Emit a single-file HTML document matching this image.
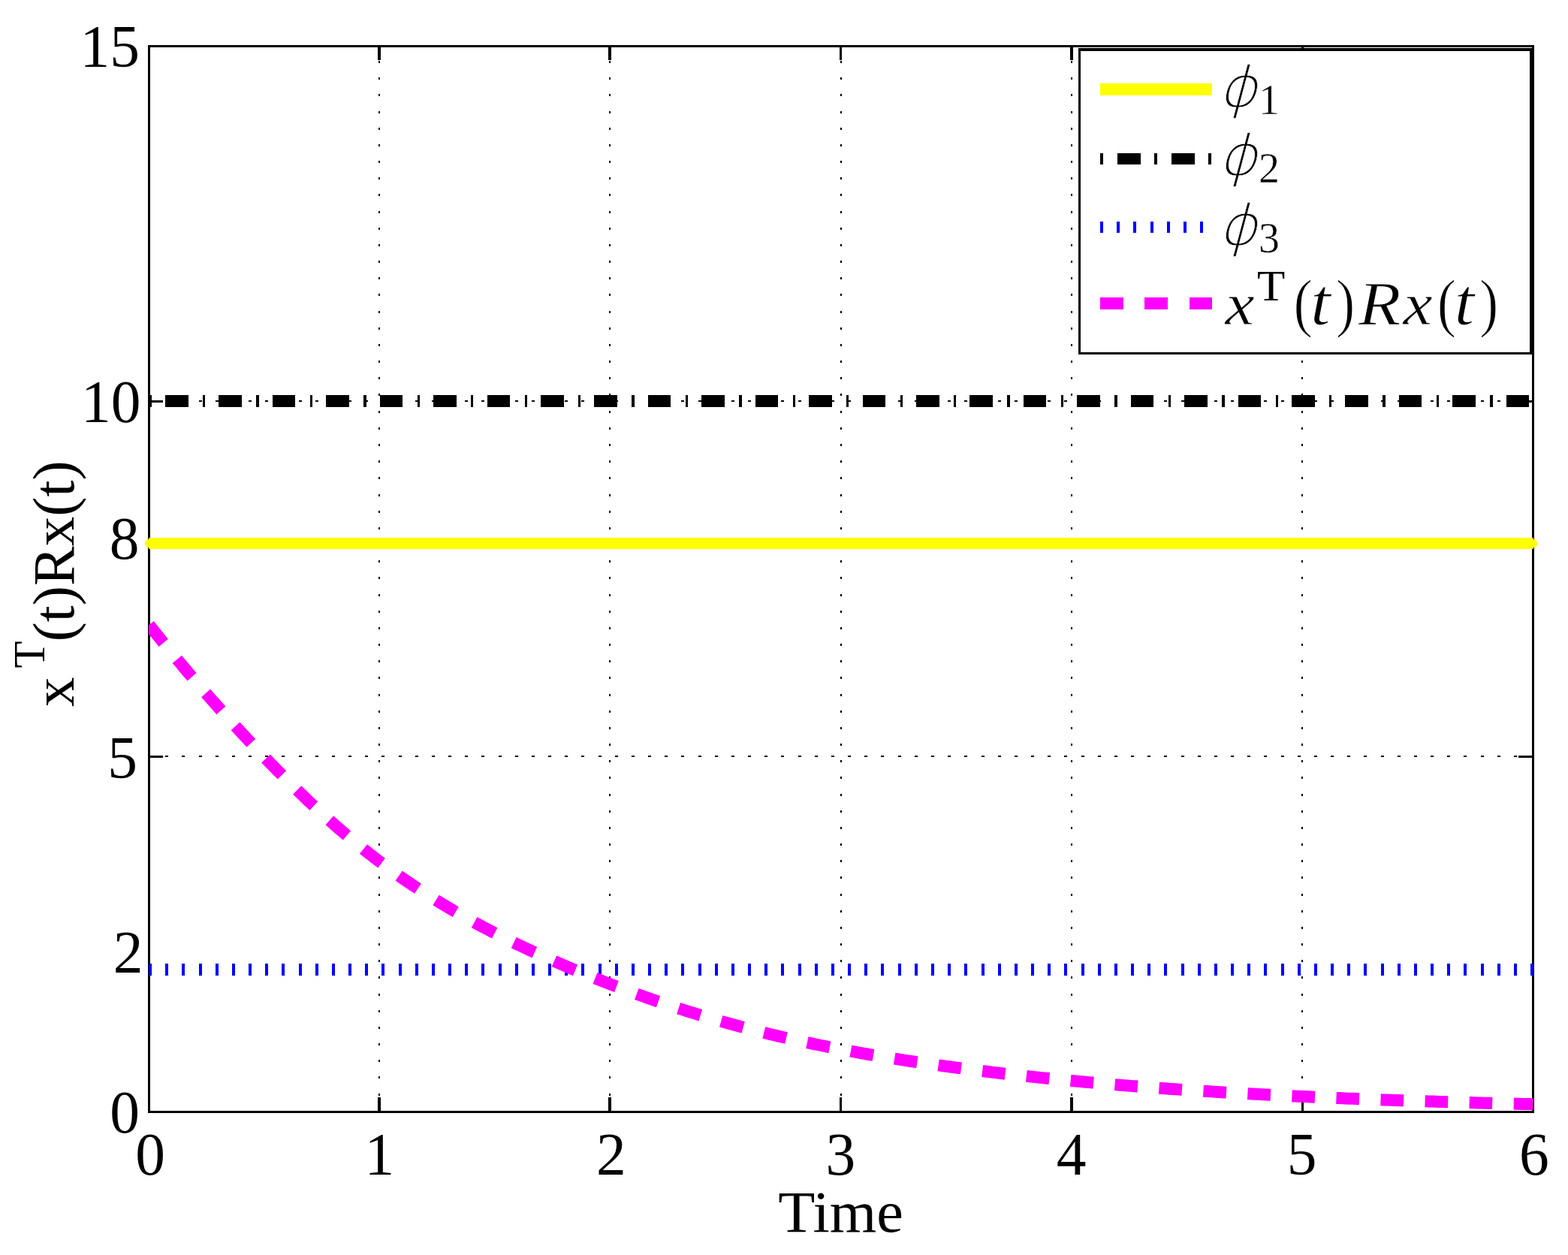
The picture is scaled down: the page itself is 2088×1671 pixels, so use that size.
<!DOCTYPE html>
<html lang="en"><head><meta charset="utf-8"><title>x^T(t)Rx(t) versus Time</title>
<style>
html,body{margin:0;padding:0;background:#fff;}
body{width:2088px;height:1671px;overflow:hidden;}
svg{display:block;}
text{font-family:"Liberation Serif",serif;fill:#000;}
.it{font-style:italic;}
</style></head><body>
<svg width="2088" height="1671" viewBox="0 0 2088 1671">
<rect x="0" y="0" width="2088" height="1671" fill="#fff"/>
<defs><clipPath id="ax"><rect x="198" y="60" width="1844.5" height="1422"/></clipPath></defs>

<g shape-rendering="crispEdges" stroke="#000" fill="none">
<line x1="505.0" y1="1480.8" x2="505.0" y2="61" stroke-width="2" stroke-dasharray="3 19.17"/>
<line x1="812.0" y1="1480.8" x2="812.0" y2="61" stroke-width="2" stroke-dasharray="3 19.17"/>
<line x1="1120.0" y1="1480.8" x2="1120.0" y2="61" stroke-width="2" stroke-dasharray="3 19.17"/>
<line x1="1427.0" y1="1480.8" x2="1427.0" y2="61" stroke-width="2" stroke-dasharray="3 19.17"/>
<line x1="1734.0" y1="1480.8" x2="1734.0" y2="61" stroke-width="2" stroke-dasharray="3 19.17"/>
<line x1="198" y1="1007.0" x2="2041" y2="1007.0" stroke-width="2" stroke-dasharray="4 18.17"/>
<line x1="198" y1="534.0" x2="2041" y2="534.0" stroke-width="2" stroke-dasharray="4 18.17"/>
</g>
<g shape-rendering="crispEdges" fill="#000">
<rect x="197" y="60" width="1846" height="3"/>
<rect x="197" y="1479" width="1846" height="3"/>
<rect x="197" y="60" width="3" height="1422"/>
<rect x="2040" y="60" width="3" height="1422"/>
<rect x="503" y="1461" width="4" height="19"/>
<rect x="503" y="62" width="4" height="18"/>
<rect x="810" y="1461" width="4" height="19"/>
<rect x="810" y="62" width="4" height="18"/>
<rect x="1118" y="1461" width="3" height="19"/>
<rect x="1118" y="62" width="3" height="18"/>
<rect x="1425" y="1461" width="4" height="19"/>
<rect x="1425" y="62" width="4" height="18"/>
<rect x="1733" y="1461" width="3" height="19"/>
<rect x="1733" y="62" width="3" height="18"/>
<rect x="199" y="1006" width="18" height="3"/>
<rect x="2022" y="1006" width="19" height="3"/>
<rect x="199" y="533" width="18" height="3"/>
<rect x="2022" y="533" width="19" height="3"/>
</g>
<g fill="none">
<line x1="198" y1="723.5" x2="2042" y2="723.5" stroke="#ff0" stroke-width="15" shape-rendering="crispEdges"/>
<circle cx="198.5" cy="723.5" r="5.6" fill="#ff0"/><circle cx="2041.5" cy="723.5" r="5.6" fill="#ff0"/>
<line x1="198.5" y1="534" x2="2042.5" y2="534" stroke="#000" stroke-width="16" stroke-dasharray="3.4 18.1 30.6 19.33" shape-rendering="crispEdges"/>
<line x1="198" y1="1291" x2="2042.5" y2="1291" stroke="#00f" stroke-width="16" stroke-dasharray="4 18.17" shape-rendering="crispEdges"/>
<path d="M198.50 832.06 L203.12 837.85 L207.74 843.60 L212.36 849.32 L216.98 855.01 L221.60 860.67 L226.21 866.30 L230.83 871.90 L235.45 877.46 L240.07 882.99 L244.69 888.50 L249.31 893.97 L253.93 899.41 L258.55 904.82 L263.17 910.20 L267.79 915.55 L272.40 920.88 L277.02 926.17 L281.64 931.43 L286.26 936.66 L290.88 941.86 L295.50 947.03 L300.12 952.17 L304.74 957.29 L309.36 962.37 L313.98 967.42 L318.60 972.45 L323.21 977.44 L327.83 982.41 L332.45 987.35 L337.07 992.26 L341.69 997.14 L346.31 1001.99 L350.93 1006.81 L355.55 1011.60 L360.17 1016.37 L364.79 1021.10 L369.40 1025.81 L374.02 1030.49 L378.64 1035.14 L383.26 1039.75 L387.88 1044.33 L392.50 1048.88 L397.12 1053.38 L401.74 1057.86 L406.36 1062.29 L410.98 1066.69 L415.60 1071.05 L420.21 1075.36 L424.83 1079.64 L429.45 1083.87 L434.07 1088.06 L438.69 1092.21 L443.31 1096.31 L447.93 1100.37 L452.55 1104.38 L457.17 1108.35 L461.79 1112.28 L466.40 1116.16 L471.02 1119.99 L475.64 1123.78 L480.26 1127.53 L484.88 1131.23 L489.50 1134.89 L494.12 1138.50 L498.74 1142.07 L503.36 1145.60 L507.98 1149.09 L512.60 1152.53 L517.21 1155.93 L521.83 1159.29 L526.45 1162.61 L531.07 1165.88 L535.69 1169.12 L540.31 1172.31 L544.93 1175.46 L549.55 1178.57 L554.17 1181.65 L558.79 1184.68 L563.40 1187.68 L568.02 1190.64 L572.64 1193.56 L577.26 1196.45 L581.88 1199.31 L586.50 1202.13 L591.12 1204.92 L595.74 1207.67 L600.36 1210.40 L604.98 1213.09 L609.60 1215.75 L614.21 1218.39 L618.83 1220.99 L623.45 1223.56 L628.07 1226.11 L632.69 1228.63 L637.31 1231.13 L641.93 1233.59 L646.55 1236.03 L651.17 1238.45 L655.79 1240.84 L660.40 1243.21 L665.02 1245.55 L669.64 1247.88 L674.26 1250.17 L678.88 1252.45 L683.50 1254.70 L688.12 1256.94 L692.74 1259.15 L697.36 1261.34 L701.98 1263.51 L706.60 1265.66 L711.21 1267.79 L715.83 1269.91 L720.45 1272.00 L725.07 1274.07 L729.69 1276.13 L734.31 1278.17 L738.93 1280.19 L743.55 1282.20 L748.17 1284.19 L752.79 1286.16 L757.40 1288.12 L762.02 1290.06 L766.64 1291.98 L771.26 1293.89 L775.88 1295.79 L780.50 1297.67 L785.12 1299.53 L789.74 1301.38 L794.36 1303.22 L798.98 1305.04 L803.60 1306.85 L808.21 1308.64 L812.83 1310.43 L817.45 1312.19 L822.07 1313.95 L826.69 1315.69 L831.31 1317.42 L835.93 1319.13 L840.55 1320.83 L845.17 1322.51 L849.79 1324.18 L854.40 1325.84 L859.02 1327.48 L863.64 1329.11 L868.26 1330.72 L872.88 1332.32 L877.50 1333.90 L882.12 1335.47 L886.74 1337.03 L891.36 1338.57 L895.98 1340.09 L900.60 1341.60 L905.21 1343.10 L909.83 1344.58 L914.45 1346.05 L919.07 1347.50 L923.69 1348.94 L928.31 1350.36 L932.93 1351.77 L937.55 1353.16 L942.17 1354.54 L946.79 1355.90 L951.40 1357.25 L956.02 1358.59 L960.64 1359.91 L965.26 1361.21 L969.88 1362.50 L974.50 1363.78 L979.12 1365.04 L983.74 1366.29 L988.36 1367.53 L992.98 1368.75 L997.60 1369.95 L1002.21 1371.14 L1006.83 1372.32 L1011.45 1373.49 L1016.07 1374.64 L1020.69 1375.78 L1025.31 1376.90 L1029.93 1378.01 L1034.55 1379.10 L1039.17 1380.19 L1043.79 1381.26 L1048.40 1382.32 L1053.02 1383.36 L1057.64 1384.39 L1062.26 1385.41 L1066.88 1386.42 L1071.50 1387.41 L1076.12 1388.40 L1080.74 1389.37 L1085.36 1390.33 L1089.98 1391.28 L1094.60 1392.22 L1099.21 1393.15 L1103.83 1394.07 L1108.45 1394.97 L1113.07 1395.87 L1117.69 1396.76 L1122.31 1397.63 L1126.93 1398.50 L1131.55 1399.36 L1136.17 1400.20 L1140.79 1401.04 L1145.40 1401.87 L1150.02 1402.69 L1154.64 1403.50 L1159.26 1404.30 L1163.88 1405.09 L1168.50 1405.87 L1173.12 1406.65 L1177.74 1407.42 L1182.36 1408.18 L1186.98 1408.93 L1191.60 1409.67 L1196.21 1410.40 L1200.83 1411.13 L1205.45 1411.85 L1210.07 1412.56 L1214.69 1413.26 L1219.31 1413.96 L1223.93 1414.65 L1228.55 1415.33 L1233.17 1416.01 L1237.79 1416.68 L1242.40 1417.34 L1247.02 1417.99 L1251.64 1418.64 L1256.26 1419.28 L1260.88 1419.91 L1265.50 1420.54 L1270.12 1421.16 L1274.74 1421.78 L1279.36 1422.39 L1283.98 1422.99 L1288.60 1423.59 L1293.21 1424.18 L1297.83 1424.77 L1302.45 1425.35 L1307.07 1425.92 L1311.69 1426.49 L1316.31 1427.05 L1320.93 1427.61 L1325.55 1428.16 L1330.17 1428.71 L1334.79 1429.25 L1339.40 1429.78 L1344.02 1430.31 L1348.64 1430.84 L1353.26 1431.36 L1357.88 1431.87 L1362.50 1432.38 L1367.12 1432.89 L1371.74 1433.39 L1376.36 1433.88 L1380.98 1434.37 L1385.60 1434.86 L1390.21 1435.34 L1394.83 1435.81 L1399.45 1436.28 L1404.07 1436.75 L1408.69 1437.21 L1413.31 1437.66 L1417.93 1438.12 L1422.55 1438.56 L1427.17 1439.00 L1431.79 1439.44 L1436.40 1439.88 L1441.02 1440.30 L1445.64 1440.73 L1450.26 1441.15 L1454.88 1441.56 L1459.50 1441.98 L1464.12 1442.38 L1468.74 1442.78 L1473.36 1443.18 L1477.98 1443.58 L1482.60 1443.97 L1487.21 1444.35 L1491.83 1444.74 L1496.45 1445.11 L1501.07 1445.49 L1505.69 1445.86 L1510.31 1446.22 L1514.93 1446.59 L1519.55 1446.94 L1524.17 1447.30 L1528.79 1447.65 L1533.40 1448.00 L1538.02 1448.34 L1542.64 1448.68 L1547.26 1449.01 L1551.88 1449.35 L1556.50 1449.67 L1561.12 1450.00 L1565.74 1450.32 L1570.36 1450.64 L1574.98 1450.95 L1579.60 1451.27 L1584.21 1451.57 L1588.83 1451.88 L1593.45 1452.18 L1598.07 1452.48 L1602.69 1452.77 L1607.31 1453.06 L1611.93 1453.35 L1616.55 1453.64 L1621.17 1453.92 L1625.79 1454.20 L1630.40 1454.47 L1635.02 1454.75 L1639.64 1455.02 L1644.26 1455.29 L1648.88 1455.55 L1653.50 1455.81 L1658.12 1456.07 L1662.74 1456.33 L1667.36 1456.58 L1671.98 1456.83 L1676.60 1457.08 L1681.21 1457.32 L1685.83 1457.57 L1690.45 1457.81 L1695.07 1458.04 L1699.69 1458.28 L1704.31 1458.51 L1708.93 1458.74 L1713.55 1458.97 L1718.17 1459.19 L1722.79 1459.42 L1727.40 1459.64 L1732.02 1459.86 L1736.64 1460.07 L1741.26 1460.28 L1745.88 1460.50 L1750.50 1460.70 L1755.12 1460.91 L1759.74 1461.11 L1764.36 1461.32 L1768.98 1461.52 L1773.60 1461.71 L1778.21 1461.91 L1782.83 1462.10 L1787.45 1462.30 L1792.07 1462.49 L1796.69 1462.67 L1801.31 1462.86 L1805.93 1463.04 L1810.55 1463.22 L1815.17 1463.40 L1819.79 1463.58 L1824.40 1463.76 L1829.02 1463.93 L1833.64 1464.10 L1838.26 1464.27 L1842.88 1464.44 L1847.50 1464.61 L1852.12 1464.77 L1856.74 1464.94 L1861.36 1465.10 L1865.98 1465.26 L1870.60 1465.42 L1875.21 1465.57 L1879.83 1465.73 L1884.45 1465.88 L1889.07 1466.03 L1893.69 1466.18 L1898.31 1466.33 L1902.93 1466.48 L1907.55 1466.62 L1912.17 1466.77 L1916.79 1466.91 L1921.40 1467.05 L1926.02 1467.19 L1930.64 1467.33 L1935.26 1467.46 L1939.88 1467.60 L1944.50 1467.73 L1949.12 1467.86 L1953.74 1467.99 L1958.36 1468.12 L1962.98 1468.25 L1967.60 1468.38 L1972.21 1468.50 L1976.83 1468.63 L1981.45 1468.75 L1986.07 1468.87 L1990.69 1468.99 L1995.31 1469.11 L1999.93 1469.23 L2004.55 1469.34 L2009.17 1469.46 L2013.79 1469.57 L2018.40 1469.68 L2023.02 1469.80 L2027.64 1469.91 L2032.26 1470.01 L2036.88 1470.12 L2041.50 1470.23" stroke="#f0f" stroke-width="16" stroke-dasharray="30.6 28.5" clip-path="url(#ax)"/>
</g>
<text transform="translate(200.00,1564.3) scale(1.0,1.02)" font-size="79.5" text-anchor="middle">0</text>
<text transform="translate(505.27,1564.3) scale(1.0,1.02)" font-size="79.5" text-anchor="middle">1</text>
<text transform="translate(813.83,1564.3) scale(1.0,1.02)" font-size="79.5" text-anchor="middle">2</text>
<text transform="translate(1119.40,1564.3) scale(1.0,1.02)" font-size="79.5" text-anchor="middle">3</text>
<text transform="translate(1426.57,1564.3) scale(1.0,1.02)" font-size="79.5" text-anchor="middle">4</text>
<text transform="translate(1733.73,1564.3) scale(1.0,1.02)" font-size="79.5" text-anchor="middle">5</text>
<text transform="translate(2042.90,1564.3) scale(1.0,1.02)" font-size="79.5" text-anchor="middle">6</text>
<text transform="translate(186.00,89) scale(1.0,1.02)" font-size="79.5" text-anchor="end">15</text>
<text transform="translate(187.40,562) scale(1.0,1.02)" font-size="79.5" text-anchor="end">10</text>
<text transform="translate(183.00,1035.5) scale(1.0,1.02)" font-size="79.5" text-anchor="end">5</text>
<text transform="translate(186.00,1508) scale(1.0,1.02)" font-size="79.5" text-anchor="end">0</text>
<text transform="translate(185.40,744) scale(1.0,1.02)" font-size="79.5" text-anchor="end">8</text>
<text transform="translate(190.50,1294.5) scale(1.0,1.02)" font-size="79.5" text-anchor="end">2</text>
<text transform="translate(1119.60,1640.2) scale(1.013,1.0)" font-size="79.3" text-anchor="middle">Time</text>
<text transform="translate(98,941) rotate(-90)" font-size="79"><tspan x="0" y="0">x</tspan><tspan x="51.5" y="-39.4" font-size="59">T</tspan><tspan x="86.5" y="0">(t)Rx(t)</tspan></text>
<g shape-rendering="crispEdges">
<rect x="1437.5" y="65.75" width="601" height="404.5" fill="#fff" stroke="#000" stroke-width="3.5"/>
<rect x="1465" y="111" width="149" height="16" fill="#ff0"/>
<line x1="1465" y1="211.5" x2="1614" y2="211.5" stroke="#000" stroke-width="15" stroke-dasharray="4 19 30.5 18.5"/>
<line x1="1465" y1="302.5" x2="1614" y2="302.5" stroke="#00f" stroke-width="15" stroke-dasharray="4 18.2"/>
<line x1="1465" y1="404" x2="1614" y2="404" stroke="#f0f" stroke-width="16" stroke-dasharray="31 28 31 29"/>
</g>
<text><tspan x="1621.8" y="142.0" font-size="74.5" textLength="52.62" lengthAdjust="spacingAndGlyphs" style="font-family:'DejaVu Sans Light','DejaVu Sans',serif;font-weight:200;font-style:italic" stroke="#fff" stroke-width="0.6">ϕ</tspan><tspan x="1676" y="152" font-size="56" stroke="#fff" stroke-width="0.5">1</tspan></text>
<text><tspan x="1621.8" y="233.3" font-size="74.5" textLength="52.62" lengthAdjust="spacingAndGlyphs" style="font-family:'DejaVu Sans Light','DejaVu Sans',serif;font-weight:200;font-style:italic" stroke="#fff" stroke-width="0.6">ϕ</tspan><tspan x="1676" y="243.3" font-size="56" stroke="#fff" stroke-width="0.5">2</tspan></text>
<text><tspan x="1621.8" y="325.5" font-size="74.5" textLength="52.62" lengthAdjust="spacingAndGlyphs" style="font-family:'DejaVu Sans Light','DejaVu Sans',serif;font-weight:200;font-style:italic" stroke="#fff" stroke-width="0.6">ϕ</tspan><tspan x="1676" y="335.5" font-size="56" stroke="#fff" stroke-width="0.5">3</tspan></text>
<text><tspan x="1631.5" y="431.5" font-size="80.00" textLength="39.06" lengthAdjust="spacingAndGlyphs" font-style="italic" stroke="#fff" stroke-width="0.80">x</tspan><tspan x="1674" y="399.8" font-size="56.50" textLength="37.27" lengthAdjust="spacingAndGlyphs" font-style="normal">T</tspan><tspan x="1722.5" y="431.5" font-size="86.80" textLength="25.31" lengthAdjust="spacingAndGlyphs" font-style="normal" stroke="#fff" stroke-width="1.20">(</tspan><tspan x="1745" y="431.5" font-size="89.00" textLength="26.71" lengthAdjust="spacingAndGlyphs" font-style="italic" stroke="#fff" stroke-width="1.00">t</tspan><tspan x="1779" y="431.5" font-size="86.80" textLength="25.31" lengthAdjust="spacingAndGlyphs" font-style="normal" stroke="#fff" stroke-width="1.20">)</tspan><tspan x="1809" y="431.5" font-size="82.50" textLength="56.44" lengthAdjust="spacingAndGlyphs" font-style="italic" stroke="#fff" stroke-width="1.00">R</tspan><tspan x="1868.5" y="431.5" font-size="80.00" textLength="39.06" lengthAdjust="spacingAndGlyphs" font-style="italic" stroke="#fff" stroke-width="0.80">x</tspan><tspan x="1913.7" y="431.5" font-size="86.80" textLength="25.31" lengthAdjust="spacingAndGlyphs" font-style="normal" stroke="#fff" stroke-width="1.20">(</tspan><tspan x="1936.5" y="431.5" font-size="89.00" textLength="26.71" lengthAdjust="spacingAndGlyphs" font-style="italic" stroke="#fff" stroke-width="1.00">t</tspan><tspan x="1970" y="431.5" font-size="86.80" textLength="25.31" lengthAdjust="spacingAndGlyphs" font-style="normal" stroke="#fff" stroke-width="1.20">)</tspan></text>
</svg></body></html>
